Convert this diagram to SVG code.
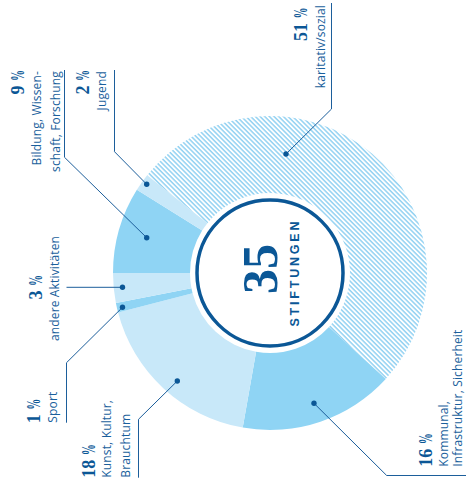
<svg xmlns="http://www.w3.org/2000/svg" width="466" height="486" viewBox="0 0 466 486">
<defs>
<pattern id="hatch" patternUnits="userSpaceOnUse" width="3.3" height="3.3" patternTransform="rotate(45)">
<rect x="0" y="0" width="3.3" height="1.5" fill="#93d2f2"/>
</pattern>
</defs>
<style>
.mid{fill:#8fd4f4}
.pale{fill:#c8e8f9}
.hatch{fill:url(#hatch)}
.pct{font-family:"Liberation Serif","Times New Roman",serif;font-weight:bold;font-size:18px;fill:#0b5796}
.lbl{font-family:"Open Sans","Liberation Sans",sans-serif;font-size:12px;letter-spacing:0.15px;fill:#1a5f9c}
.end{text-anchor:end}
.ctr{text-anchor:middle}
.conn{fill:none;stroke:#1c5e9b;stroke-width:1}
.dot{fill:#0b5796}
</style>
<rect width="466" height="486" fill="#fff"/>

<g id="karitativ">
<path class="hatch" d="M147.13 175.27 A157 157 0 1 1 385.75 379.07 L328.98 327.05 A80 80 0 1 0 207.39 223.2 Z"/>
<text class="pct" transform="translate(306.5,41) rotate(-90)">51 <tspan textLength="11" lengthAdjust="spacingAndGlyphs">%</tspan></text>
<text class="lbl end" transform="translate(325,5) rotate(-90)">karitativ/sozial</text>
</g>

<g id="kommunal">
<path class="mid" d="M385.75 379.07 A157 157 0 0 1 242.74 427.61 L256.11 351.78 A80 80 0 0 0 328.98 327.05 Z"/>
<text class="pct" transform="translate(431.8,466.7) rotate(-90)">16 <tspan textLength="11" lengthAdjust="spacingAndGlyphs">%</tspan></text>
<text class="lbl" transform="translate(448.2,466.7) rotate(-90)">Kommunal,</text>
<text class="lbl" transform="translate(462.3,466.7) rotate(-90)">Infrastruktur, Sicherheit</text>
</g>

<g id="kunst">
<path class="pale" d="M242.74 427.61 A157 157 0 0 1 118.07 312.57 L192.58 293.17 A80 80 0 0 0 256.11 351.78 Z"/>
<text class="pct" transform="translate(95,477.7) rotate(-90)">18 <tspan textLength="11" lengthAdjust="spacingAndGlyphs">%</tspan></text>
<text class="lbl" transform="translate(111,477.7) rotate(-90)">Kunst, Kultur,</text>
<text class="lbl" transform="translate(129.5,477.7) rotate(-90)">Brauchtum</text>
</g>

<g id="sport">
<path class="mid" d="M118.07 312.57 A157 157 0 0 1 115.88 302.96 L191.47 288.26 A80 80 0 0 0 192.58 293.17 Z"/>
<text class="pct" transform="translate(40,423.3) rotate(-90)">1 <tspan textLength="11" lengthAdjust="spacingAndGlyphs">%</tspan></text>
<text class="lbl" transform="translate(57.3,422.7) rotate(-90)">Sport</text>
</g>

<g id="andere">
<path class="pale" d="M115.88 302.96 A157 157 0 0 1 113 273 L190 273 A80 80 0 0 0 191.47 288.26 Z"/>
<text class="pct" transform="translate(41.7,299.5) rotate(-90)">3 <tspan textLength="11" lengthAdjust="spacingAndGlyphs">%</tspan></text>
<text class="lbl ctr" transform="translate(59.3,288.5) rotate(-90)">andere Aktivitäten</text>
</g>

<g id="bildung">
<path class="mid" d="M113 273 A157 157 0 0 1 136.86 189.8 L202.16 230.61 A80 80 0 0 0 190 273 Z"/>
<text class="pct" transform="translate(24,94.5) rotate(-90)">9 <tspan textLength="11" lengthAdjust="spacingAndGlyphs">%</tspan></text>
<text class="lbl end" transform="translate(41,71) rotate(-90)">Bildung, Wissen-</text>
<text class="lbl end" transform="translate(59.5,71) rotate(-90)">schaft, Forschung</text>
</g>

<g id="jugend">
<path class="pale" d="M136.86 189.8 A157 157 0 0 1 147.13 175.27 L207.39 223.2 A80 80 0 0 0 202.16 230.61 Z"/>
<text class="pct" transform="translate(89.3,94.5) rotate(-90)">2 <tspan textLength="11" lengthAdjust="spacingAndGlyphs">%</tspan></text>
<text class="lbl end" transform="translate(106,71) rotate(-90)">Jugend</text>
</g>

<g id="center">
<circle cx="270" cy="273" r="73" fill="#fff" stroke="#0b5796" stroke-width="3.5"/>
<text transform="translate(277,269) rotate(-90)" text-anchor="middle" font-family="Liberation Serif, Times New Roman, serif" font-weight="bold" font-size="50" fill="#0b5796">35</text>
<text transform="translate(299,272.6) rotate(-90)" text-anchor="middle" font-family="Liberation Sans, Arial, sans-serif" font-weight="bold" font-size="12.5" letter-spacing="2.8" fill="#0b5796">STIFTUNGEN</text>
</g>

<g id="connectors">
<polyline class="conn" points="331.5,3 331.5,109 286,154"/>
<polyline class="conn" points="466,475.5 386.7,475.5 314,403.3"/>
<polyline class="conn" points="138.5,477.7 138.5,419.3 177.3,381"/>
<polyline class="conn" points="66.5,422.7 66.5,362.7 122.5,307.3"/>
<polyline class="conn" points="66.5,287.3 122.5,287.3"/>
<polyline class="conn" points="64.5,70 64.5,157.3 146.7,237.7"/>
<polyline class="conn" points="114.5,70 114.5,151.7 146.7,184.3"/>
<circle class="dot" cx="286" cy="154" r="2.7"/>
<circle class="dot" cx="314" cy="403.3" r="2.7"/>
<circle class="dot" cx="177.3" cy="381" r="2.7"/>
<circle class="dot" cx="122.5" cy="307.3" r="2.7"/>
<circle class="dot" cx="122.5" cy="287.3" r="2.7"/>
<circle class="dot" cx="146.7" cy="237.7" r="2.7"/>
<circle class="dot" cx="146.7" cy="184.3" r="2.7"/>
</g>
</svg>
